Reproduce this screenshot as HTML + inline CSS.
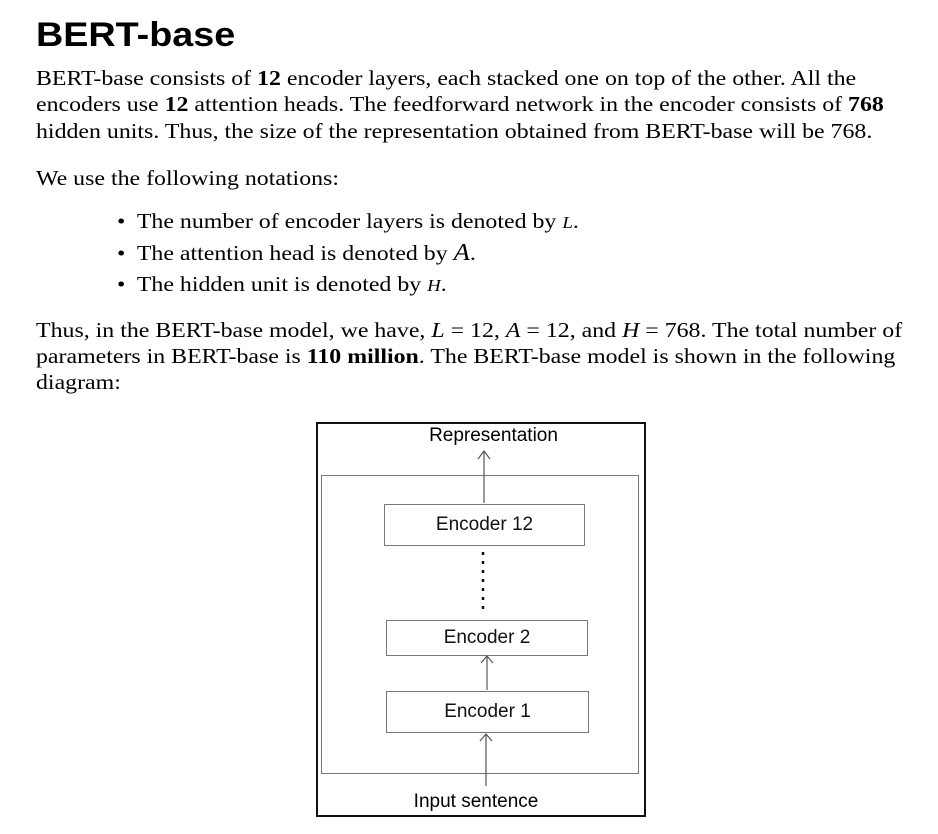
<!DOCTYPE html>
<html><head><meta charset="utf-8"><style>
body{margin:0;width:938px;height:834px;background:#fff;position:relative;overflow:hidden;color:#000}
.t{position:absolute;white-space:nowrap;font-family:"Liberation Serif",serif;font-size:21.5px;line-height:26px;transform:scaleX(1.11);transform-origin:0 0}
.s{font-family:"Liberation Sans",sans-serif;transform:none}
i{font-style:italic}
.b{position:absolute;box-sizing:border-box}
.enc{position:absolute;box-sizing:border-box;border:1px solid #777;font-family:"Liberation Sans",sans-serif;font-size:19px;display:flex;align-items:center;justify-content:center;color:#111}
</style></head><body>
<div class="t s" style="left:36px;top:14px;font-size:34px;font-weight:bold;line-height:42px;transform:scaleX(1.11);transform-origin:0 0">BERT-base</div>
<div class="t" style="left:36px;top:65px">BERT-base consists of <b>12</b> encoder layers, each stacked one on top of the other. All the</div>
<div class="t" style="left:36px;top:91px">encoders use <b>12</b> attention heads. The feedforward network in the encoder consists of <b>768</b></div>
<div class="t" style="left:36px;top:118px">hidden units. Thus, the size of the representation obtained from BERT-base will be 768.</div>
<div class="t" style="left:36px;top:165px">We use the following notations:</div>
<div class="t" style="left:117px;top:208px">•&nbsp; The number of encoder layers is denoted by <i style="font-size:17px">L</i>.</div>
<div class="t" style="left:117px;top:240px">•&nbsp; The attention head is denoted by <i style="font-size:24px">A</i>.</div>
<div class="t" style="left:117px;top:271px">•&nbsp; The hidden unit is denoted by <i style="font-size:17px">H</i>.</div>
<div class="t" style="left:36px;top:317px">Thus, in the BERT-base model, we have, <i>L</i> = 12, <i>A</i> = 12, and <i>H</i> = 768. The total number of</div>
<div class="t" style="left:36px;top:343px">parameters in BERT-base is <b>110 million</b>. The BERT-base model is shown in the following</div>
<div class="t" style="left:36px;top:369px">diagram:</div>

<div class="b" style="left:316px;top:422px;width:330px;height:395px;border:2px solid #111"></div>
<div class="b" style="left:321px;top:475px;width:318px;height:299px;border:1px solid #777"></div>
<div class="t s" style="left:316px;width:355px;text-align:center;top:423px;font-size:19px">Representation</div>
<div class="t s" style="left:316px;width:320px;text-align:center;top:789px;font-size:19px">Input sentence</div>
<div class="enc" style="left:384px;top:504px;width:201px;height:42px">Encoder 12</div>
<div class="enc" style="left:386px;top:620px;width:202px;height:36px">Encoder 2</div>
<div class="enc" style="left:386px;top:691px;width:203px;height:42px">Encoder 1</div>
<svg style="position:absolute;left:0;top:0" width="938" height="834">
<g stroke="#555" stroke-width="1.2" fill="none">
<line x1="484" y1="451" x2="484" y2="503"/><polyline points="478,459 484,451 490,459"/>
<line x1="487" y1="657" x2="487" y2="690"/><polyline points="481,663 487,656 493,663"/>
<line x1="486" y1="734" x2="486" y2="786"/><polyline points="480,741 486,734 492,741"/>
</g>
<line x1="483" y1="552" x2="483" y2="612" stroke="#111" stroke-width="2.5" stroke-dasharray="3,6"/>
</svg>
</body></html>
